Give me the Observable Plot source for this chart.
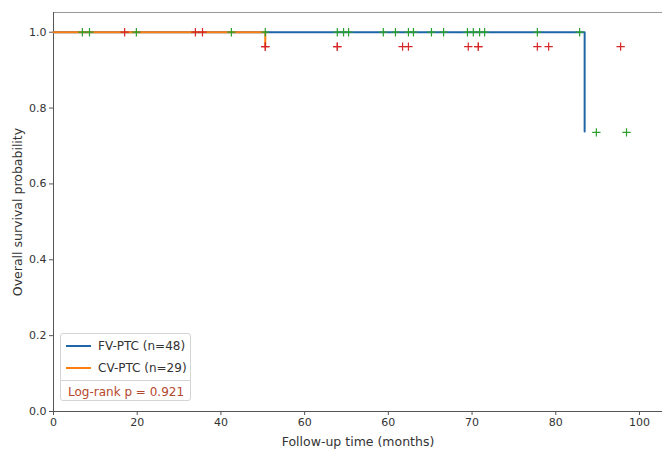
<!DOCTYPE html>
<html>
<head>
<meta charset="utf-8">
<script src="https://cdn.jsdelivr.net/npm/d3@7"></script>
<script src="https://cdn.jsdelivr.net/npm/@observablehq/plot@0.6"></script>
<style>
  html, body { margin: 0; padding: 0; background: #fff; }
  #wrap { position: relative; width: 662px; height: 457px; font-family: "DejaVu Sans", sans-serif; }
  #wrap svg [aria-label="x-axis label"], #wrap svg [aria-label="y-axis label"] { font-size: 12.5px; }
  #legend { position: absolute; left: 60px; top: 333px; width: 131px; height: 68px; border: 1px solid #d4d4d4; border-radius: 3px; background: #fff; font-size: 12px; color: #333; box-sizing: border-box; }
  .row { position: absolute; left: 0; height: 14px; line-height: 14px; white-space: nowrap; }
  .sw { position: absolute; left: 5px; top: 6px; width: 25px; height: 2px; }
  .lbl { position: absolute; left: 37px; top: 0; }
  #sep { position: absolute; left: 0; right: 0; top: 46px; border-top: 1px solid #d4d4d4; }
  #pval { position: absolute; left: 7px; top: 51px; color: #b5482c; white-space: nowrap; }
</style>
</head>
<body>
<div id="wrap"></div>
<script>
// ---- data ----
const xTickPositions = [0, 20, 40, 60, 80, 100, 120, 140];
const xTickLabels = ["0", "20", "40", "60", "60", "70", "80", "100"];
const yTicks = [0, 0.2, 0.4, 0.6, 0.8, 1.0];

// FV-PTC (n=48) Kaplan-Meier step points
const fvTimes = [0, 126.9];
const fvSurv = [1.0, 0.738];
// FV-PTC censor marks
const fvCensorTimes = [6.9, 8.6, 19.8, 42.5, 50.6, 67.8, 69.3, 70.5, 78.8, 81.7, 84.8, 86.0, 90.3, 93.2, 98.9, 100.3, 101.8, 103.0, 115.6, 125.7, 129.7, 136.9];
const fvCensorSurv = [1, 1, 1, 1, 1, 1, 1, 1, 1, 1, 1, 1, 1, 1, 1, 1, 1, 1, 1, 1, 0.736, 0.736];

// CV-PTC (n=29) Kaplan-Meier step points
const cvTimes = [0, 50.6];
const cvSurv = [1.0, 0.962];
// CV-PTC censor marks
const cvCensorTimes = [17.0, 33.9, 35.6, 50.6, 50.6, 67.8, 67.8, 83.4, 84.8, 99.1, 101.5, 101.5, 115.6, 118.3, 135.5];
const cvCensorSurv = [1, 1, 1, 0.962, 0.962, 0.962, 0.962, 0.962, 0.962, 0.962, 0.962, 0.962, 0.962, 0.962, 0.962];

const seriesNames = ["FV-PTC (n=48)", "CV-PTC (n=29)"];
const pValueText = "Log-rank p = 0.921";

const colors = { fv: "#1f66a8", cv: "#ff7f0e", fvCensor: "#2ca02c", cvCensor: "#d62728" };

// ---- build tables ----
const fvLine = fvTimes.map((t, i) => ({ t, s: fvSurv[i] }));
const cvLine = cvTimes.map((t, i) => ({ t, s: cvSurv[i] }));
const fvCens = fvCensorTimes.map((t, i) => ({ t, s: fvCensorSurv[i] }));
const cvCens = cvCensorTimes.map((t, i) => ({ t, s: cvCensorSurv[i] }));

const chart = Plot.plot({
  width: 662,
  height: 457,
  marginLeft: 53,
  marginRight: 0,
  marginTop: 12,
  marginBottom: 46,
  style: { fontFamily: "DejaVu Sans, sans-serif", fontSize: "11px", color: "#333", background: "#fff" },
  x: { domain: [0, 145.5] },
  y: { domain: [0, 1.052] },
  marks: [
    Plot.ruleY([1.052], { stroke: "#999", strokeWidth: 1 }),
    Plot.ruleX([0], { stroke: "#555", strokeWidth: 1 }),
    Plot.ruleY([0], { stroke: "#555", strokeWidth: 1 }),
    Plot.axisX({
      ticks: xTickPositions,
      tickFormat: d => xTickLabels[xTickPositions.indexOf(d)],
      tickSize: 4,
      tickPadding: 3,
      label: "Follow-up time (months)",
      labelAnchor: "center",
      labelArrow: "none",
      labelOffset: 34,
      fontSize: 11,
      stroke: "#555"
    }),
    Plot.axisY({
      ticks: yTicks,
      tickFormat: d => d.toFixed(1),
      tickSize: 4,
      tickPadding: 3,
      label: "Overall survival probability",
      labelAnchor: "center",
      labelArrow: "none",
      labelOffset: 40,
      fontSize: 11,
      stroke: "#555"
    }),
    Plot.line(fvLine, { x: "t", y: "s", curve: "step-after", stroke: colors.fv, strokeWidth: 2 }),
    Plot.line(cvLine, { x: "t", y: "s", curve: "step-after", stroke: colors.cv, strokeWidth: 2 }),
    Plot.dot(cvCens, { x: "t", y: "s", symbol: "plus", r: 2.8, stroke: colors.cvCensor, strokeWidth: 1.2 }),
    Plot.dot(fvCens, { x: "t", y: "s", symbol: "plus", r: 2.8, stroke: colors.fvCensor, strokeWidth: 1.2 })
  ]
});

const wrap = document.getElementById("wrap");
wrap.appendChild(chart);

const legend = document.createElement("div");
legend.id = "legend";
legend.innerHTML = `
  <div class="row" style="top:5px;width:100%"><div class="sw" style="background:${colors.fv}"></div><div class="lbl">${seriesNames[0]}</div></div>
  <div class="row" style="top:27px;width:100%"><div class="sw" style="background:${colors.cv}"></div><div class="lbl">${seriesNames[1]}</div></div>
  <div id="sep"></div>
  <div id="pval">${pValueText}</div>`;
wrap.appendChild(legend);
</script>
</body>
</html>
